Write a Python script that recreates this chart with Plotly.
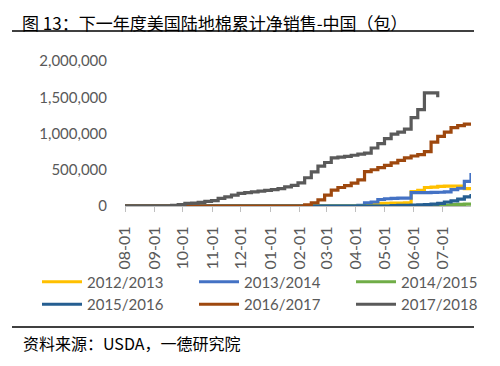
import plotly.graph_objects as go
import datetime as dt

# Weekly dates of the marketing year (Aug 1 2017 .. Jul 31 2018)
start = dt.date(2017, 8, 1)
weeks = [(start + dt.timedelta(days=7 * i)).isoformat() for i in range(53)]

series_names = ["2012/2013", "2013/2014", "2014/2015", "2015/2016", "2016/2017", "2017/2018"]

v_2012 = [0] * 36 + [15000, 25000, 35000, 38000, 40000, 40000, 45000,
                     200000, 215000, 255000, 260000, 270000, 275000, 275000, 275000, 240000, 240000]
v_2013 = [0] * 35 + [10000, 45000, 55000, 90000, 100000, 105000, 108000, 110000,
                     185000, 185000, 185000, 188000, 190000, 195000, 225000, 245000, 340000, 455000]
v_2014 = [0] * 45 + [3000, 5000, 8000, 12000, 18000, 22000, 25000, 28000]
v_2015 = [0] * 40 + [5000, 8000, 10000, 12000, 15000, 20000, 25000, 35000,
                     55000, 70000, 95000, 125000, 165000]
v_2016 = [0] * 27 + [15000, 45000, 85000, 150000, 220000, 255000, 280000, 315000,
                     360000, 475000, 500000, 530000, 560000, 595000, 630000, 665000,
                     690000, 710000, 750000, 880000, 960000, 1020000, 1080000,
                     1110000, 1130000, 1145000]
v_2017 = [0] * 7 + [10000, 20000, 35000, 40000, 50000, 65000, 75000, 105000, 125000,
                    150000, 175000, 185000, 195000, 205000, 215000, 225000, 240000,
                    265000, 285000, 320000, 390000, 470000, 550000, 600000, 665000,
                    675000, 685000, 700000, 715000, 730000, 800000, 860000, 930000,
                    990000, 1020000, 1060000, 1220000, 1330000, 1560000, 1560000,
                    1500000] + [None] * 5

values = [v_2012, v_2013, v_2014, v_2015, v_2016, v_2017]
colors = ["#FFC000", "#4472C4", "#70AD47", "#255E91", "#9E480E", "#5A5A5A"]
legend_ids = ["legend", "legend2", "legend3", "legend", "legend2", "legend3"]

fig = go.Figure()
for name, vals, col, lg in zip(series_names, values, colors, legend_ids):
    fig.add_trace(go.Scatter(x=weeks, y=vals, name=name, mode="lines",
                             line=dict(color=col, width=3.2, shape="hv"),
                             connectgaps=False, legend=lg))

# page has an 8px body margin: figure is drawn from page pixel (8, 8)
OFF = 8
FW, FH = 500 - OFF, 366 - OFF
L, R, T, B = 125, 471, 61, 206   # plot area in page pixels
W, H = R - L, B - T
def px(x):
    return (x - L) / W
def py(y):
    return (B - y) / H

cjk = "Noto Sans CJK SC"
lat = "Lato, 'Noto Sans', sans-serif"

def leg(xpage):
    return dict(orientation="v", x=px(xpage), y=py(265.5), xanchor="left", yanchor="top",
                font=dict(family=lat, size=15, color="#595959"), itemwidth=40,
                bgcolor="rgba(0,0,0,0)", borderwidth=0)

fig.update_layout(
    width=FW, height=FH,
    margin=dict(l=L - OFF, r=500 - R, t=T - OFF, b=366 - B, pad=0),
    paper_bgcolor="white", plot_bgcolor="white",
    showlegend=True,
    legend=leg(37), legend2=leg(194), legend3=leg(351),
    xaxis=dict(type="date", range=["2017-08-01", "2018-07-31"],
               tick0="2017-08-01", dtick="M1", tickformat="%m-%d", tickangle=-90,
               showgrid=False, zeroline=False, showline=True, linecolor="#BFBFBF",
               linewidth=1, ticks="outside", ticklen=5, tickcolor="#BFBFBF",
               ticklabelstandoff=8,
               tickfont=dict(family=lat, size=16, color="#595959")),
    yaxis=dict(range=[0, 2000000], tickvals=[0, 500000, 1000000, 1500000, 2000000],
               tickformat=",d", showgrid=False, zeroline=False, showline=False,
               ticks="", ticklabelstandoff=17,
               tickfont=dict(family=lat, size=15, color="#595959")),
    font=dict(family=lat),
)

fig.add_annotation(text="图 13：下一年度美国陆地棉累计净销售-中国（包）",
                   xref="paper", yref="paper", x=px(21), y=py(8.5),
                   xanchor="left", yanchor="top", showarrow=False, borderpad=0,
                   font=dict(family=cjk, size=17, color="#000000"))
fig.add_annotation(text="资料来源：USDA，一德研究院",
                   xref="paper", yref="paper", x=px(21), y=py(343),
                   xanchor="left", yanchor="middle", showarrow=False,
                   font=dict(family=cjk, size=16, color="#000000"))

fig.add_shape(type="line", xref="paper", yref="paper", x0=px(12), x1=px(474),
              y0=py(31), y1=py(31), line=dict(color="black", width=1.5))
fig.add_shape(type="line", xref="paper", yref="paper", x0=px(12), x1=px(474),
              y0=py(327), y1=py(327), line=dict(color="black", width=1.5))
fig.add_shape(type="rect", xref="paper", yref="paper", x0=px(493), x1=px(499),
              y0=py(365), y1=py(359), line=dict(color="#AAAAAA", width=1))

fig.write_html("out.html")
